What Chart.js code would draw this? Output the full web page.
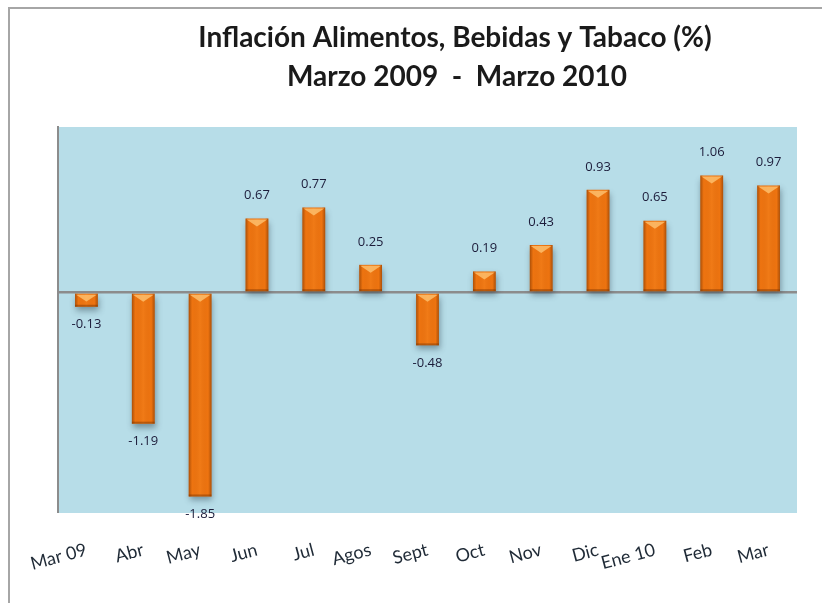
<!DOCTYPE html>
<html>
<head>
<meta charset="utf-8">
<script src="https://cdn.jsdelivr.net/npm/chart.js@4.4.0/dist/chart.umd.min.js"></script>
<style>
  html, body { margin: 0; padding: 0; background: #ffffff; }
  #wrap { position: relative; width: 822px; height: 603px; overflow: hidden; }
  #frame { position: absolute; left: 8px; top: 7px; width: 900px; height: 700px;
           border-left: 2px solid #a6a6a6; border-top: 2px solid #a6a6a6; }
  canvas { position: absolute; left: 0; top: 0; }
</style>
</head>
<body>
<div id="wrap">
  <div id="frame"></div>
  <canvas id="c" width="822" height="603"></canvas>
</div>
<script>
const titleLines = ["Inflación Alimentos, Bebidas y Tabaco (%)", "Marzo 2009  -  Marzo 2010"];
const categories = ["Mar 09", "Abr", "May", "Jun", "Jul", "Agos", "Sept", "Oct", "Nov", "Dic", "Ene 10", "Feb", "Mar"];
const values = [-0.13, -1.19, -1.85, 0.67, 0.77, 0.25, -0.48, 0.19, 0.43, 0.93, 0.65, 1.06, 0.97];
const valueLabels = ["-0.13", "-1.19", "-1.85", "0.67", "0.77", "0.25", "-0.48", "0.19", "0.43", "0.93", "0.65", "1.06", "0.97"];

const plotBg = {
  id: 'plotBg',
  beforeDraw(chart) {
    const {ctx, chartArea: a} = chart;
    ctx.save();
    ctx.fillStyle = '#b7dde8';
    ctx.fillRect(a.left, a.top, a.right - a.left, a.bottom - a.top);
    ctx.restore();
  },
  afterDraw(chart) {
    const ctx = chart.ctx;
    ctx.save();
    ctx.font = 'bold 28px Lato, sans-serif';
    ctx.fillStyle = '#1a1a1a';
    ctx.textAlign = 'center';
    ctx.textBaseline = 'middle';
    ctx.fillText(titleLines[0], 455, 38);
    ctx.fillText(titleLines[1], 457, 77);
    ctx.restore();
  }
};

const barShadow = {
  id: 'barShadow',
  beforeDatasetsDraw(chart) {
    const ctx = chart.ctx;
    ctx.save();
    ctx.shadowColor = 'rgba(40,60,70,0.45)';
    ctx.shadowBlur = 6;
    ctx.shadowOffsetX = 1;
    ctx.shadowOffsetY = 4;
  },
  afterDatasetsDraw(chart) {
    const ctx = chart.ctx;
    ctx.restore();
    const meta = chart.getDatasetMeta(0);
    ctx.save();
    meta.data.forEach((el, i) => {
      const p = el.getProps(['x', 'y', 'base', 'width'], true);
      const l = p.x - p.width / 2, r = p.x + p.width / 2;
      const top = Math.min(p.y, p.base), bot = Math.max(p.y, p.base);
      const g = ctx.createLinearGradient(l, 0, r, 0);
      g.addColorStop(0, 'rgba(120,50,0,0.55)');
      g.addColorStop(0.15, 'rgba(120,50,0,0.0)');
      g.addColorStop(0.5, 'rgba(255,160,60,0.15)');
      g.addColorStop(0.85, 'rgba(120,50,0,0.0)');
      g.addColorStop(1, 'rgba(120,50,0,0.55)');
      ctx.fillStyle = g;
      ctx.fillRect(l, top, r - l, bot - top);
      const h = Math.min(8, (bot - top) * 0.6);
      ctx.beginPath();
      ctx.moveTo(l + 1, top + 1);
      ctx.lineTo(r - 1, top + 1);
      ctx.lineTo(p.x, top + h);
      ctx.closePath();
      ctx.fillStyle = 'rgba(255,200,120,0.75)';
      ctx.fill();
      ctx.fillStyle = 'rgba(120,50,0,0.45)';
      ctx.fillRect(l, bot - 2, r - l, 2);
    });
    ctx.font = '13px "Open Sans", Lato, sans-serif';
    ctx.fillStyle = '#1c1c3a';
    ctx.textAlign = 'center';
    ctx.textBaseline = 'middle';
    meta.data.forEach((el, i) => {
      const p = el.getProps(['x', 'y'], true);
      const v = values[i];
      const yy = v >= 0 ? p.y - 23 : p.y + 18;
      ctx.fillText(valueLabels[i], p.x, yy);
    });
    ctx.restore();
  }
};

new Chart(document.getElementById('c'), {
  type: 'bar',
  data: {
    labels: categories,
    datasets: [{
      data: values,
      backgroundColor: '#ee7410',
      borderWidth: 0,
      barPercentage: 0.8,
      categoryPercentage: 0.5
    }]
  },
  options: {
    responsive: false,
    animation: false,
    events: [],
    layout: { padding: { left: 58, right: 25, top: 127, bottom: 0 } },
    plugins: {
      legend: { display: false },
      tooltip: { enabled: false },
      title: { display: false }
    },
    scales: {
      x: {
        grid: { display: false },
        border: { display: false },
        afterFit: (scale) => { scale.height = 90; },
        ticks: {
          color: '#1f2a36',
          font: { family: 'Lato', size: 18 },
          autoSkip: false,
          minRotation: 15,
          maxRotation: 15,
          padding: 18
        }
      },
      y: {
        min: -2,
        max: 1.5,
        afterFit: (scale) => { scale.width = 0; },
        ticks: { display: false, stepSize: 0.5 },
        grid: {
          drawTicks: false,
          color: (c) => (c.tick && c.tick.value === 0) ? '#8c8c8c' : 'rgba(0,0,0,0)',
          lineWidth: (c) => (c.tick && c.tick.value === 0) ? 2.5 : 0
        },
        border: { display: true, color: '#8c8c8c', width: 2 }
      }
    }
  },
  plugins: [plotBg, barShadow]
});
</script>
</body>
</html>
